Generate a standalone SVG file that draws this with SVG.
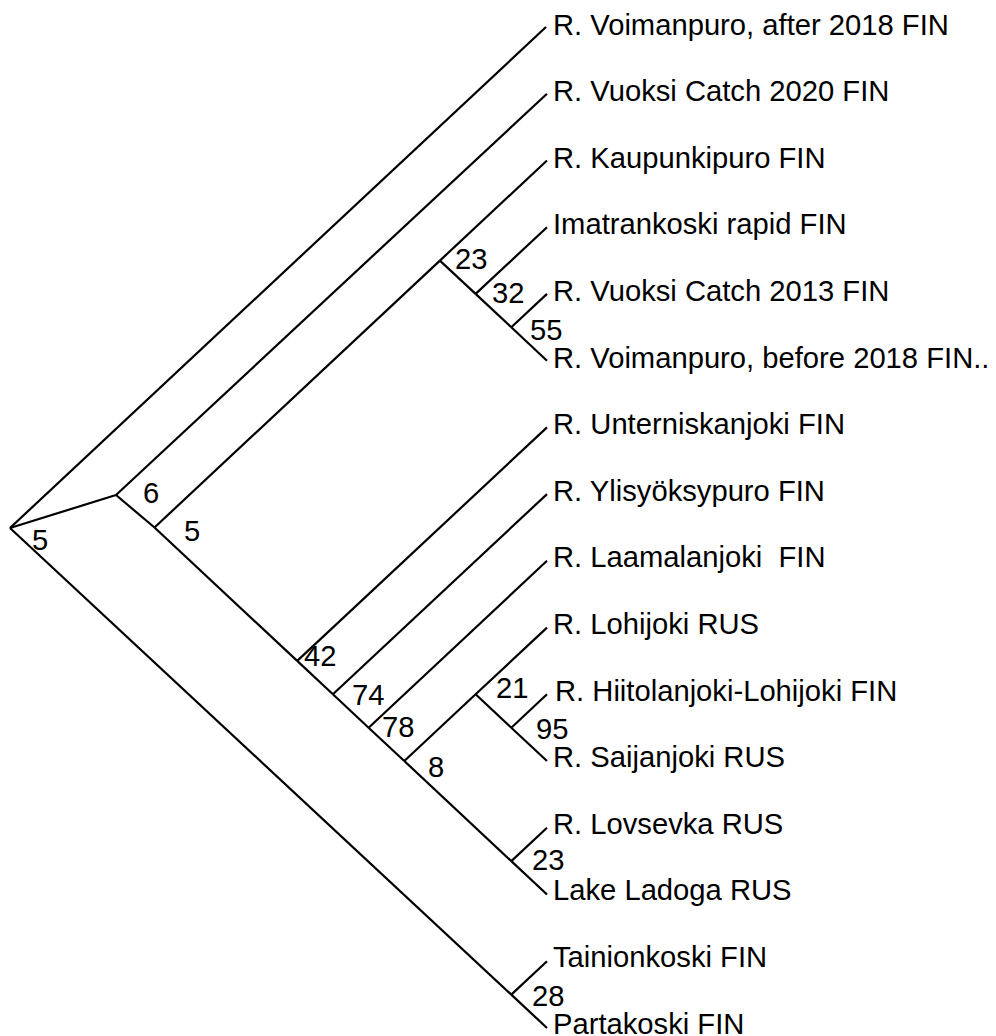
<svg xmlns="http://www.w3.org/2000/svg" width="996" height="1036" viewBox="0 0 996 1036">
<style>
.e{stroke:#000;stroke-width:2.2;fill:none;stroke-linecap:butt}
text{font-family:"Liberation Sans",Arial,sans-serif;font-size:29.2px;fill:#000;white-space:pre}
</style>
<rect width="996" height="1036" fill="#fff"/>
<g id="connectors">
<line class="e" x1="10" y1="528" x2="546" y2="27"/>
<line class="e" x1="10" y1="528" x2="116" y2="495"/>
<line class="e" x1="10" y1="528" x2="511.3" y2="994.6"/>
<line class="e" x1="511.3" y1="994.6" x2="547" y2="961.2"/>
<line class="e" x1="511.3" y1="994.6" x2="547" y2="1028"/>
<line class="e" x1="116" y1="495" x2="547" y2="93.7"/>
<line class="e" x1="116" y1="495" x2="154.5" y2="527.5"/>
<line class="e" x1="154.5" y1="527.5" x2="439.9" y2="260.6"/>
<line class="e" x1="439.9" y1="260.6" x2="547" y2="160.5"/>
<line class="e" x1="439.9" y1="260.6" x2="475.6" y2="293.9"/>
<line class="e" x1="475.6" y1="293.9" x2="547" y2="227.2"/>
<line class="e" x1="475.6" y1="293.9" x2="511.3" y2="327.3"/>
<line class="e" x1="511.3" y1="327.3" x2="547" y2="293.9"/>
<line class="e" x1="511.3" y1="327.3" x2="547" y2="360.7"/>
<line class="e" x1="154.5" y1="527.5" x2="297.2" y2="660.9"/>
<line class="e" x1="297.2" y1="660.9" x2="547" y2="427.4"/>
<line class="e" x1="297.2" y1="660.9" x2="332.9" y2="694.3"/>
<line class="e" x1="332.9" y1="694.3" x2="547" y2="494.1"/>
<line class="e" x1="332.9" y1="694.3" x2="368.6" y2="727.7"/>
<line class="e" x1="368.6" y1="727.7" x2="547" y2="560.8"/>
<line class="e" x1="368.6" y1="727.7" x2="404.3" y2="761"/>
<line class="e" x1="404.3" y1="761" x2="475.6" y2="694.3"/>
<line class="e" x1="475.6" y1="694.3" x2="547" y2="627.6"/>
<line class="e" x1="475.6" y1="694.3" x2="511.3" y2="727.7"/>
<line class="e" x1="511.3" y1="727.7" x2="547" y2="694.3"/>
<line class="e" x1="511.3" y1="727.7" x2="547" y2="761"/>
<line class="e" x1="404.3" y1="761" x2="511.3" y2="861.1"/>
<line class="e" x1="511.3" y1="861.1" x2="547" y2="827.8"/>
<line class="e" x1="511.3" y1="861.1" x2="547" y2="894.5"/>
</g>
<g id="tips">
<g id="t1"><text x="553" y="34.5">R. Voimanpuro, after 2018 FIN</text></g>
<g id="t2"><text x="553" y="101.1">R. Vuoksi Catch 2020 FIN</text></g>
<g id="t3"><text x="553" y="167.7">R. Kaupunkipuro FIN</text></g>
<g id="t4"><text x="553" y="234.3">Imatrankoski rapid FIN</text></g>
<g id="t5"><text x="553" y="300.9">R. Vuoksi Catch 2013 FIN</text></g>
<g id="t6"><text x="553" y="367.5">R. Voimanpuro, before 2018 FIN..</text></g>
<g id="t7"><text x="553" y="434.1">R. Unterniskanjoki FIN</text></g>
<g id="t8"><text x="553" y="500.7">R. Ylisyöksypuro FIN</text></g>
<g id="t9"><text x="553" y="567.3">R. Laamalanjoki  FIN</text></g>
<g id="t10"><text x="553" y="633.9">R. Lohijoki RUS</text></g>
<g id="t11"><text x="555" y="700.5">R. Hiitolanjoki-Lohijoki FIN</text></g>
<g id="t12"><text x="553" y="767.1">R. Saijanjoki RUS</text></g>
<g id="t13"><text x="553" y="833.7">R. Lovsevka RUS</text></g>
<g id="t14"><text x="553" y="900.3">Lake Ladoga RUS</text></g>
<g id="t15"><text x="553" y="966.9">Tainionkoski FIN</text></g>
<g id="t16"><text x="553" y="1033.5">Partakoski FIN</text></g>
</g>
<g id="support">
<g id="n-root"><text x="32" y="550">5</text></g>
<g id="n6"><text x="143" y="503">6</text></g>
<g id="n5"><text x="184" y="541">5</text></g>
<g id="n23a"><text x="455" y="269">23</text></g>
<g id="n32"><text x="492" y="303">32</text></g>
<g id="n55"><text x="530" y="340">55</text></g>
<g id="n42"><text x="304" y="666">42</text></g>
<g id="n74"><text x="352" y="705">74</text></g>
<g id="n78"><text x="382" y="737">78</text></g>
<g id="n8"><text x="428" y="777">8</text></g>
<g id="n21"><text x="496" y="698">21</text></g>
<g id="n95"><text x="536" y="739">95</text></g>
<g id="n23b"><text x="532" y="870">23</text></g>
<g id="n28"><text x="532" y="1006">28</text></g>
</g>
</svg>
